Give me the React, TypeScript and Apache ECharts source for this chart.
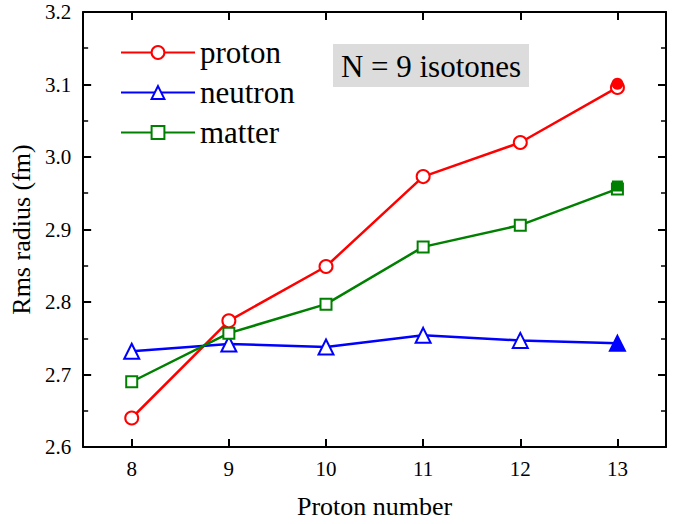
import React, { useEffect, useRef } from "react";
import * as echarts from "echarts";

const protonNumbers = ["8", "9", "10", "11", "12", "13"];
const protonRadius = [2.64, 2.774, 2.849, 2.973, 3.02, 3.096];
const neutronRadius = [2.732, 2.742, 2.738, 2.754, 2.747, 2.743];
const matterRadius = [2.69, 2.757, 2.797, 2.876, 2.906, 2.956];
const protonExp = [null, null, null, null, null, 3.101];
const neutronExp = [null, null, null, null, null, 2.743];
const matterExp = [null, null, null, null, null, 2.96];
const yTicks = [2.6, 2.7, 2.8, 2.9, 3.0, 3.1, 3.2];

const FONT = "'Liberation Serif', 'Times New Roman', serif";
const RED = "#ff0000";
const BLUE = "#0000ff";
const GREEN = "#008000";

export default function App() {
  const ref = useRef<HTMLDivElement>(null);
  useEffect(() => {
    if (!ref.current) return;
    const chart = echarts.init(ref.current, null, { renderer: "svg" });
    const axisLine = { show: true, lineStyle: { color: "#000", width: 2 } };
    const mkLine = (name: string, data: number[], color: string, symbol: string, size: number) => ({
      name,
      type: "line",
      data,
      symbol,
      symbolSize: size,
      showAllSymbol: true,
      lineStyle: { color, width: 2.5 },
      itemStyle: { color, borderColor: color, borderWidth: 2 },
      z: 3,
    });
    const mkExp = (data: (number | null)[], color: string, symbol: string, size: number) => ({
      type: "line",
      data,
      symbol,
      symbolSize: size,
      showAllSymbol: true,
      lineStyle: { width: 0, opacity: 0 },
      itemStyle: { color, borderColor: color, borderWidth: 0 },
      z: 4,
      silent: true,
    });
    chart.setOption({
      animation: false,
      backgroundColor: "#fff",
      textStyle: { fontFamily: FONT },
      grid: { left: 82, top: 12, right: 19, bottom: 74, containLabel: false },
      legend: {
        data: ["proton", "neutron", "matter"],
        orient: "vertical",
        left: 115,
        top: 32,
        itemWidth: 74,
        itemHeight: 16,
        itemGap: 9,
        textStyle: { fontFamily: FONT, fontSize: 31, color: "#000" },
      },
      xAxis: [
        {
          type: "category",
          data: protonNumbers,
          boundaryGap: true,
          position: "bottom",
          name: "Proton number",
          nameLocation: "middle",
          nameGap: 46,
          nameTextStyle: { fontFamily: FONT, fontSize: 26, color: "#000" },
          axisLine,
          axisTick: { show: true, inside: true, alignWithLabel: true, length: 8, lineStyle: { color: "#000", width: 2 } },
          axisLabel: { fontFamily: FONT, fontSize: 21, color: "#000", margin: 11 },
          splitLine: { show: false },
        },
        {
          type: "category",
          data: protonNumbers,
          boundaryGap: true,
          position: "top",
          axisLine,
          axisTick: { show: true, inside: true, alignWithLabel: true, length: 8, lineStyle: { color: "#000", width: 2 } },
          axisLabel: { show: false },
          splitLine: { show: false },
        },
      ],
      yAxis: [
        {
          type: "value",
          min: yTicks[0],
          max: yTicks[yTicks.length - 1],
          interval: 0.1,
          position: "left",
          name: "Rms radius (fm)",
          nameLocation: "middle",
          nameGap: 46,
          nameTextStyle: { fontFamily: FONT, fontSize: 26, color: "#000" },
          axisLine,
          axisTick: { show: true, inside: true, length: 8, lineStyle: { color: "#000", width: 2 } },
          minorTick: { show: true, splitNumber: 2, length: 5, lineStyle: { color: "#000", width: 1.5 } },
          axisLabel: { fontFamily: FONT, fontSize: 21, color: "#000", margin: 12, formatter: (v: number) => v.toFixed(1) },
          splitLine: { show: false },
        },
        {
          type: "value",
          min: yTicks[0],
          max: yTicks[yTicks.length - 1],
          interval: 0.1,
          position: "right",
          axisLine,
          axisTick: { show: true, inside: true, length: 8, lineStyle: { color: "#000", width: 2 } },
          minorTick: { show: true, splitNumber: 2, length: 5, lineStyle: { color: "#000", width: 1.5 } },
          axisLabel: { show: false },
          splitLine: { show: false },
        },
      ],
      series: [
        mkLine("proton", protonRadius, RED, "emptyCircle", 13),
        mkLine("neutron", neutronRadius, BLUE, "emptyTriangle", 15),
        mkLine("matter", matterRadius, GREEN, "emptyRect", 11),
        mkExp(protonExp, RED, "circle", 12),
        mkExp(neutronExp, BLUE, "triangle", 15),
        mkExp(matterExp, GREEN, "rect", 11),
      ],
      graphic: [
        {
          type: "rect",
          shape: { x: 333, y: 44, width: 196, height: 43 },
          style: { fill: "#dcdcdc" },
          z: 10,
        },
        {
          type: "text",
          x: 431,
          y: 66,
          style: {
            text: "N = 9 isotones",
            font: `31px ${FONT}`,
            fill: "#000",
            align: "center",
            verticalAlign: "middle",
          },
          z: 11,
        },
      ],
    });
    return () => chart.dispose();
  }, []);
  return (
    <div
      ref={ref}
      style={{ position: "fixed", left: 0, top: 0, width: 685, height: 524 }}
    />
  );
}
